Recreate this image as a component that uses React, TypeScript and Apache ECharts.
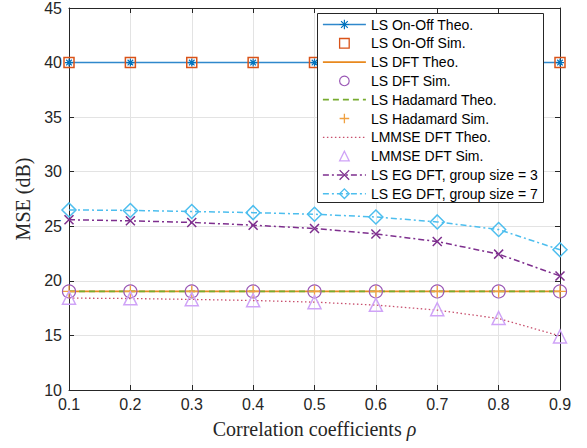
import React, { useEffect, useRef } from "react";
import * as echarts from "echarts";

const rho = [0.1, 0.2, 0.3, 0.4, 0.5, 0.6, 0.7, 0.8, 0.9];
const yTicks = [10, 15, 20, 25, 30, 35, 40, 45];

const lsOnOffTheo = [40, 40, 40, 40, 40, 40, 40, 40, 40];
const lsOnOffSim = [40, 40, 40, 40, 40, 40, 40, 40, 40];
const lsDftTheo = [19.03, 19.03, 19.03, 19.03, 19.03, 19.03, 19.03, 19.03, 19.03];
const lsDftSim = [19.03, 19.03, 19.03, 19.03, 19.03, 19.03, 19.03, 19.03, 19.03];
const lsHadTheo = [19.03, 19.03, 19.03, 19.03, 19.03, 19.03, 19.03, 19.03, 19.03];
const lsHadSim = [19.03, 19.03, 19.03, 19.03, 19.03, 19.03, 19.03, 19.03, 19.03];
const lmmseDftTheo = [18.42, 18.38, 18.3, 18.2, 18.05, 17.78, 17.32, 16.55, 14.95];
const lmmseDftSim = [18.45, 18.4, 18.32, 18.22, 18.05, 17.8, 17.4, 16.6, 14.9];
const egDft3 = [25.6, 25.5, 25.35, 25.1, 24.8, 24.3, 23.6, 22.45, 20.45];
const egDft7 = [26.5, 26.45, 26.35, 26.25, 26.1, 25.85, 25.4, 24.7, 22.85];

const names = [
  "LS On-Off Theo.",
  "LS On-Off Sim.",
  "LS DFT Theo.",
  "LS DFT Sim.",
  "LS Hadamard Theo.",
  "LS Hadamard Sim.",
  "LMMSE DFT Theo.",
  "LMMSE DFT Sim.",
  "LS EG DFT, group size = 3",
  "LS EG DFT, group size = 7",
];

const ASTERISK = "path://M0,-1L0,1M-1,0L1,0M-0.7,-0.7L0.7,0.7M-0.7,0.7L0.7,-0.7";
const CROSS = "path://M-1,-1L1,1M-1,1L1,-1";
const PLUS = "path://M0,-1L0,1M-1,0L1,0";

const pairs = (ys: number[]) => rho.map((x, i) => [x, ys[i]]);

const AXIS_COLOR = "#262626";
const GRID_COLOR = "#e3e3e3";

type Opts = {
  lineColor?: string;
  lineWidth?: number;
  dash?: number[] | "solid";
  noLine?: boolean;
  symbol?: string;
  symbolSize?: number;
  markerColor?: string;
  markerWidth?: number;
};

function makeSeries(name: string, ys: number[], opts: Opts) {
  const hasSymbol = !!opts.symbol;
  return {
    name,
    type: "line",
    data: pairs(ys),
    symbol: opts.symbol || "circle",
    showSymbol: hasSymbol,
    symbolSize: opts.symbolSize || 10,
    symbolKeepAspect: true,
    lineStyle: {
      color: opts.lineColor || opts.markerColor || "#000",
      width: opts.noLine ? 0 : opts.lineWidth || 1.5,
      opacity: opts.noLine ? 0 : 1,
      type: opts.dash || "solid",
    },
    itemStyle: {
      color: "transparent",
      borderColor: opts.markerColor || opts.lineColor || "#000",
      borderWidth: hasSymbol ? opts.markerWidth || 1.2 : 0,
    },
    emphasis: { disabled: true },
    z: 2,
  };
}

function legendItem(name: string, opts: Opts) {
  const hasSymbol = !!opts.symbol;
  return {
    name,
    itemStyle: {
      color: "transparent",
      borderColor: opts.markerColor || opts.lineColor || "#000",
      borderWidth: hasSymbol ? Math.min(opts.markerWidth || 1.2, 1.3) : 0,
    },
    lineStyle: {
      width: opts.noLine ? 0 : opts.lineWidth || 1.5,
      opacity: opts.noLine ? 0 : 1,
    },
  };
}

export default function App() {
  const ref = useRef<HTMLDivElement>(null);
  useEffect(() => {
    if (!ref.current) return;
    const chart = echarts.init(ref.current, null, { renderer: "svg" });
    const specs: [number[], Opts][] = [
      [lsOnOffTheo, { lineColor: "#2f88cc", lineWidth: 1.5, symbol: ASTERISK, symbolSize: 8, markerColor: "#0072BD", markerWidth: 1.2 }],
      [lsOnOffSim, { noLine: true, symbol: "rect", symbolSize: 10, markerColor: "#D95319", markerWidth: 1.5 }],
      [lsDftTheo, { lineColor: "#E8891E", lineWidth: 1.8 }],
      [lsDftSim, { noLine: true, symbol: "circle", symbolSize: 13, markerColor: "#9B59B6", markerWidth: 1.2 }],
      [lsHadTheo, { lineColor: "#77AC30", lineWidth: 1.8, dash: [6, 4] }],
      [lsHadSim, { noLine: true, symbol: PLUS, symbolSize: 12, markerColor: "#F0A040", markerWidth: 1.3 }],
      [lmmseDftTheo, { lineColor: "#C8506E", lineWidth: 1.3, dash: [1.5, 2.5] }],
      [lmmseDftSim, { noLine: true, symbol: "triangle", symbolSize: 13, markerColor: "#CFA3F7", markerWidth: 1.5 }],
      [egDft3, { lineColor: "#7E2F8E", lineWidth: 1.5, dash: [6, 3, 2, 3], symbol: CROSS, symbolSize: 9, markerColor: "#7E2F8E", markerWidth: 1.5 }],
      [egDft7, { lineColor: "#4DBEEE", lineWidth: 1.5, dash: [6, 3, 2, 3], symbol: "diamond", symbolSize: 14, markerColor: "#4DBEEE", markerWidth: 1.5 }],
    ];
    const series = specs.map(([ys, o], i) => makeSeries(names[i], ys, o));
    const legendData = specs.map(([, o], i) => legendItem(names[i], o));

    const axisCommon = {
      axisLine: { show: true, onZero: false, lineStyle: { color: AXIS_COLOR, width: 1 } },
      axisTick: { show: true, inside: true, length: 5, lineStyle: { color: AXIS_COLOR, width: 1 } },
    };

    chart.setOption({
      animation: false,
      backgroundColor: "#ffffff",
      grid: { left: 69, right: 27, top: 7, bottom: 58, containLabel: false },
      xAxis: [
        {
          type: "value",
          min: 0.1,
          max: 0.9,
          interval: 0.1,
          position: "bottom",
          ...axisCommon,
          axisLabel: {
            show: true,
            margin: 6,
            color: AXIS_COLOR,
            fontSize: 16,
            fontFamily: "Liberation Sans",
            formatter: (v: number) => v.toFixed(1),
          },
          splitLine: { show: true, lineStyle: { color: GRID_COLOR, width: 1 } },
          name: "{a|Correlation coefficients }{b|ρ}",
          nameLocation: "middle",
          nameGap: 29,
          nameTextStyle: {
            rich: {
              a: { fontFamily: "Liberation Serif", fontSize: 20, color: AXIS_COLOR },
              b: { fontFamily: "Liberation Serif", fontSize: 20, fontStyle: "italic", color: AXIS_COLOR },
            },
          },
        },
        {
          type: "value",
          min: 0.1,
          max: 0.9,
          interval: 0.1,
          position: "top",
          ...axisCommon,
          axisLabel: { show: false },
          splitLine: { show: false },
        },
      ],
      yAxis: [
        {
          type: "value",
          min: yTicks[0],
          max: yTicks[yTicks.length - 1],
          interval: yTicks[1] - yTicks[0],
          position: "left",
          ...axisCommon,
          axisLabel: {
            show: true,
            margin: 7,
            color: AXIS_COLOR,
            fontSize: 16,
            fontFamily: "Liberation Sans",
          },
          splitLine: { show: true, lineStyle: { color: GRID_COLOR, width: 1 } },
          name: "MSE (dB)",
          nameLocation: "middle",
          nameGap: 33,
          nameTextStyle: { fontFamily: "Liberation Serif", fontSize: 20, color: AXIS_COLOR },
        },
        {
          type: "value",
          min: yTicks[0],
          max: yTicks[yTicks.length - 1],
          interval: yTicks[1] - yTicks[0],
          position: "right",
          ...axisCommon,
          axisLabel: { show: false },
          splitLine: { show: false },
        },
      ],
      graphic: {
        elements: [
          {
            type: "rect",
            z: 50,
            shape: { x: 317.5, y: 13.5, width: 226, height: 189 },
            style: { fill: "#ffffff", stroke: AXIS_COLOR, lineWidth: 1 },
            silent: true,
          },
        ],
      },
      legend: {
        show: true,
        z: 60,
        orient: "vertical",
        left: 322,
        top: 17.5,
        padding: 0,
        itemWidth: 43,
        itemHeight: 12,
        itemGap: 4.8,
        selectedMode: false,
        data: legendData,
        textStyle: { fontFamily: "Liberation Sans", fontSize: 14, color: "#000", lineHeight: 14 },
      },
      series,
    });
    return () => chart.dispose();
  }, []);
  return <div ref={ref} style={{ width: 587, height: 448, position: "absolute", left: 0, top: 0 }} />;
}
